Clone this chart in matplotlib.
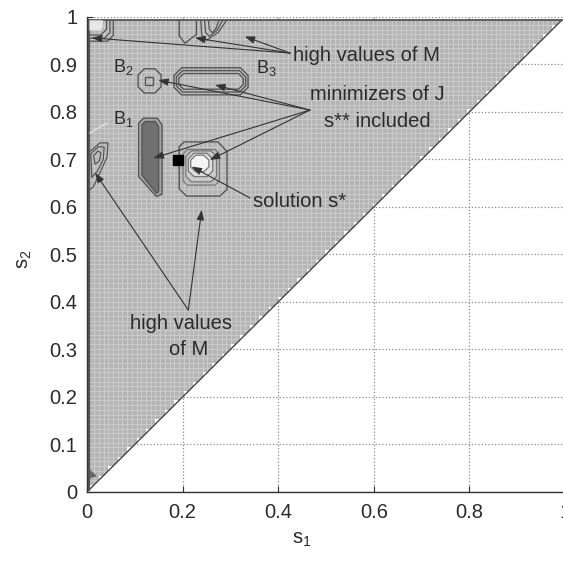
import numpy as np
import matplotlib.pyplot as plt
from matplotlib.patches import Polygon
from matplotlib.colors import ListedColormap

plt.rcParams['font.family'] = ['Liberation Sans', 'DejaVu Sans']
plt.rcParams['mathtext.fontset'] = 'custom'
plt.rcParams['mathtext.rm'] = 'Liberation Sans'
plt.rcParams['mathtext.it'] = 'Liberation Sans:italic'

# axis ticks
x_ticks = [0, 0.2, 0.4, 0.6, 0.8, 1.0]
x_labels = ['0', '0.2', '0.4', '0.6', '0.8', '1']
y_ticks = [0, 0.1, 0.2, 0.3, 0.4, 0.5, 0.6, 0.7, 0.8, 0.9, 1.0]
y_labels = ['0', '0.1', '0.2', '0.3', '0.4', '0.5', '0.6', '0.7', '0.8', '0.9', '1']

# feasible domain (s2 > s1), sampled on a 100x100 grid
s_min, s_max, n_cells = 0.005, 0.993, 100

# minimizer B1 (dark region)
b1_outer_x = [0.108, 0.118, 0.147, 0.157, 0.157, 0.145, 0.108]
b1_outer_y = [0.776, 0.787, 0.787, 0.773, 0.627, 0.622, 0.664]
b1_inner_x = [0.115, 0.122, 0.143, 0.150, 0.150, 0.145, 0.115]
b1_inner_y = [0.773, 0.780, 0.780, 0.769, 0.632, 0.629, 0.667]

# minimizer B2
b2_box = [0.107, 0.155, 0.840, 0.891]
b2_core = [0.121, 0.138, 0.857, 0.874]

# minimizer B3 (three nested levels)
b3_x0 = [0.182, 0.187, 0.192]
b3_x1 = [0.337, 0.332, 0.327]
b3_y0 = [0.836, 0.842, 0.848]
b3_y1 = [0.893, 0.887, 0.881]

# region around the solution s*
sol_outer_x = [0.193, 0.203, 0.274, 0.293, 0.293, 0.278, 0.208, 0.193]
sol_outer_y = [0.727, 0.737, 0.737, 0.717, 0.637, 0.623, 0.623, 0.638]
sol_x0 = [0.201, 0.207, 0.212, 0.217]
sol_x1 = [0.277, 0.271, 0.263, 0.255]
sol_y0 = [0.646, 0.653, 0.664, 0.674]
sol_y1 = [0.721, 0.718, 0.713, 0.709]
s_star2 = (0.190, 0.698)   # black square

# high values of M near the upper edge
corner_xr = [0.041, 0.048, 0.055]
corner_yb = [0.962, 0.955, 0.949]
notch_x = [0.193, 0.193, 0.205, 0.229, 0.229]
notch_y = [0.993, 0.960, 0.945, 0.963, 0.993]
top_lines_x = [[0.238, 0.240, 0.250, 0.275, 0.292],
               [0.246, 0.248, 0.256, 0.272, 0.284],
               [0.254, 0.256, 0.262, 0.270, 0.276]]
top_lines_y = [[0.993, 0.962, 0.951, 0.968, 0.993],
               [0.993, 0.968, 0.959, 0.972, 0.993],
               [0.993, 0.974, 0.967, 0.976, 0.993]]

# high values of M near the left edge
blob_x = [[0.005, 0.027, 0.044, 0.042, 0.027, 0.013, 0.005],
          [0.008, 0.024, 0.036, 0.034, 0.022, 0.010],
          [0.014, 0.023, 0.029, 0.026, 0.017]]
blob_y = [[0.716, 0.735, 0.735, 0.705, 0.672, 0.642, 0.636],
          [0.712, 0.727, 0.726, 0.700, 0.676, 0.662],
          [0.708, 0.718, 0.714, 0.697, 0.690]]
wedge_x = [0.006, 0.006, 0.021]
wedge_y = [0.047, 0.029, 0.033]


def octagon(x0, x1, y0, y1, c):
    return [(x0 + c, y0), (x1 - c, y0), (x1, y0 + c), (x1, y1 - c),
            (x1 - c, y1), (x0 + c, y1), (x0, y1 - c), (x0, y0 + c)]


fig = plt.figure(figsize=(5.63, 5.64), dpi=100)
ax = fig.add_axes([0.1545, 0.1277, 0.849, 0.8422])
ax.set_xlim(0, 1)
ax.set_ylim(0, 1)

# gray feasible region with cell edges and stair along the diagonal
edges = np.linspace(s_min, s_max, n_cells + 1)
verts = [(edges[0], edges[0])]
for i in range(n_cells):
    a, b = edges[i], edges[i + 1]
    if i % 2 == 0:
        verts.append((a, b))
    verts.append((b, b))
verts.append((edges[0], edges[-1]))
region = Polygon(verts, closed=True, facecolor='none', edgecolor='none')
ax.add_patch(region)
X, Y = np.meshgrid(edges, edges)
mesh = ax.pcolormesh(X, Y, np.ones((n_cells, n_cells)), cmap=ListedColormap(['#b5b5b5']),
                     edgecolors='#cacaca', linewidth=0.5, zorder=1)
mesh.set_clip_path(region)

line_c = '#555555'
ax.plot([edges[0], edges[-1]], [edges[0], edges[-1]], color='#444444', lw=1.0, zorder=2)
ax.plot([edges[0], edges[-1]], [edges[-1], edges[-1]], color=line_c, lw=1.3, zorder=2)
ax.plot([edges[0], edges[0]], [edges[0], edges[-1]], color=line_c, lw=1.6, zorder=2)

# B1
ax.add_patch(Polygon(list(zip(b1_outer_x, b1_outer_y)), closed=True, facecolor='#a6a6a6',
                     edgecolor=line_c, lw=1.0, zorder=3))
ax.add_patch(Polygon(list(zip(b1_inner_x, b1_inner_y)), closed=True, facecolor='#707070',
                     edgecolor=line_c, lw=1.0, zorder=3))
# B2
ax.add_patch(Polygon(octagon(*b2_box, 0.013), closed=True, facecolor='none',
                     edgecolor=line_c, lw=1.0, zorder=3))
ax.add_patch(Polygon(octagon(*b2_core, 0.0), closed=True, facecolor='none',
                     edgecolor=line_c, lw=1.0, zorder=3))
# B3
for k in range(len(b3_x0)):
    c = 0.016 - 0.003 * k
    ax.add_patch(Polygon(octagon(b3_x0[k], b3_x1[k], b3_y0[k], b3_y1[k], c), closed=True,
                         facecolor='none', edgecolor=line_c, lw=1.0, zorder=3))
# solution region
ax.add_patch(Polygon(list(zip(sol_outer_x, sol_outer_y)), closed=True, facecolor='none',
                     edgecolor=line_c, lw=1.0, zorder=3))
sol_fill = ['#bdbdbd', '#cbcbcb', '#dedede', '#f3f3f3']
for k in range(len(sol_x0)):
    c = 0.3 * min(sol_x1[k] - sol_x0[k], sol_y1[k] - sol_y0[k])
    ax.add_patch(Polygon(octagon(sol_x0[k], sol_x1[k], sol_y0[k], sol_y1[k], c * (0.4 + 0.2 * k)),
                         closed=True, facecolor=sol_fill[k], edgecolor='#777777', lw=0.9, zorder=3))
ax.plot(*s_star2, marker='s', ms=7, color='black', zorder=4)

# top edge features
for k in range(len(corner_xr)):
    xr, yb = corner_xr[k], corner_yb[k]
    ax.plot([edges[0], xr - 0.012, xr, xr], [yb, yb, yb + 0.012, edges[-1]],
            color=line_c, lw=0.9, zorder=3)
ax.add_patch(Polygon([(edges[0], 0.972), (0.028, 0.972), (0.033, 0.978), (0.033, edges[-1]),
                      (edges[0], edges[-1])], closed=True, facecolor='#e6e6e6',
                     edgecolor='none', zorder=2))
ax.plot(notch_x, notch_y, color=line_c, lw=1.0, zorder=3)
for lx, ly in zip(top_lines_x, top_lines_y):
    ax.plot(lx, ly, color=line_c, lw=0.9, zorder=3)

# left edge feature
for bx, by in zip(blob_x, blob_y):
    ax.add_patch(Polygon(list(zip(bx, by)), closed=True, facecolor='none',
                         edgecolor=line_c, lw=0.9, zorder=3))
ax.plot([0.006, 0.042], [0.756, 0.777], color='#e8e8e8', lw=0.8, zorder=3)
ax.add_patch(Polygon(list(zip(wedge_x, wedge_y)), closed=True, facecolor='#666666',
                     edgecolor='none', zorder=3))

# annotations
txt_c = '#2b2b2b'
fs = 14.5
arr = dict(arrowstyle='-|>,head_length=0.6,head_width=0.22', color='#333333', lw=0.8,
           shrinkA=0, shrinkB=0, mutation_scale=10)


def arrows(src, tips):
    for tip in tips:
        ax.annotate('', xy=tip, xytext=src, arrowprops=arr, zorder=5)


ax.text(0.432, 0.918, 'high values of M', fontsize=fs, color=txt_c, va='center', zorder=5)
arrows((0.425, 0.924), [(0.010, 0.956), (0.226, 0.956), (0.330, 0.959)])

ax.text(0.607, 0.836, 'minimizers of J', fontsize=fs, color=txt_c, ha='center', va='center', zorder=5)
ax.text(0.607, 0.779, 's** included', fontsize=fs, color=txt_c, ha='center', va='center', zorder=5)
arrows((0.4665, 0.804), [(0.149, 0.867), (0.268, 0.857), (0.139, 0.703), (0.257, 0.699)])

ax.text(0.348, 0.611, 'solution s*', fontsize=fs, color=txt_c, va='center', zorder=5)
arrows((0.341, 0.619), [(0.219, 0.685)])

ax.text(0.196, 0.354, 'high values', fontsize=fs, color=txt_c, ha='center', va='center', zorder=5)
ax.text(0.212, 0.299, 'of M', fontsize=fs, color=txt_c, ha='center', va='center', zorder=5)
arrows((0.212, 0.383), [(0.017, 0.672), (0.240, 0.594)])

ax.text(0.054, 0.785, r'B$_1$', fontsize=13, color=txt_c, va='center', zorder=5)
ax.text(0.054, 0.894, r'B$_2$', fontsize=13, color=txt_c, va='center', zorder=5)
ax.text(0.353, 0.893, r'B$_3$', fontsize=13, color=txt_c, va='center', zorder=5)

# axes styling
ax.set_axisbelow(True)
ax.grid(True, linestyle=':', color='#8a8a8a', lw=0.9)
ax.set_xticks(x_ticks)
ax.set_xticklabels(x_labels)
ax.set_yticks(y_ticks)
ax.set_yticklabels(y_labels)
ax.tick_params(direction='in', length=4, color='#333333', labelsize=fs, labelcolor=txt_c)
ax.tick_params(axis='x', pad=8)
ax.tick_params(axis='y', pad=7)
for side in ['top', 'right']:
    ax.spines[side].set_visible(False)
for side in ['left', 'bottom']:
    ax.spines[side].set_color('#333333')
    ax.spines[side].set_linewidth(1.0)

ax.set_xlabel(r's$_1$', fontsize=fs, color=txt_c)
ax.set_ylabel(r's$_2$', fontsize=fs, color=txt_c)
ax.xaxis.set_label_coords(0.45, -0.08)
ax.yaxis.set_label_coords(-0.11, 0.49)

fig.savefig('out.png', dpi=100)
